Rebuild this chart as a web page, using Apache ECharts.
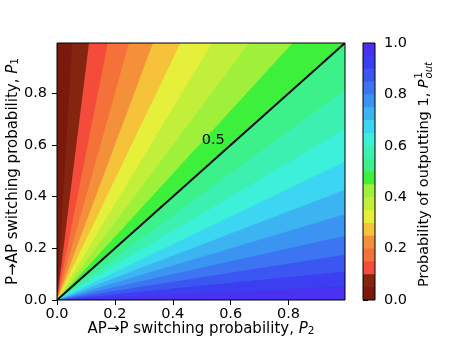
<!DOCTYPE html>
<html>
<head>
<meta charset="utf-8">
<title>P_out contour</title>
<script src="https://cdn.jsdelivr.net/npm/echarts@6/dist/echarts.min.js"></script>
<style>
  html, body { margin: 0; padding: 0; background: #fff; }
  #chart { width: 463px; height: 354px; }
</style>
</head>
<body>
<div id="chart"></div>
<script>
// filled-contour levels of P_out^1 (colourbar shows 20 bands of 0.05)
const levels = [0.00, 0.05, 0.10, 0.15, 0.20, 0.25, 0.30, 0.35, 0.40, 0.45,
                0.50, 0.55, 0.60, 0.65, 0.70, 0.75, 0.80, 0.85, 0.90, 0.95, 1.00]
// one colour per band, low -> high
const bandColors = ['#7a1a0e', '#85240f', '#f54b3b', '#f4723a', '#f5903a',
                    '#f5c23a', '#e6f03a', '#c2f03a', '#9ef03a', '#3cf03c',
                    '#3cf08a', '#3cf0b2', '#3cf0da', '#3cd6f2', '#3cb4f2',
                    '#3c94f2', '#3c74f2', '#3c56f2', '#3c3ef2', '#4a30f0']
// axis extents (P2 on x, P1 on y)
const p2Range = [0, 0.995]
const p1Range = [0, 0.995]
const axisTicks = [0, 0.2, 0.4, 0.6, 0.8]
const cbarTicks = [0, 0.2, 0.4, 0.6, 0.8, 1.0]
// black contour line and where its label sits
const lineLevels = [0.5]
const lineLabelAt = [[0.54, 0.62]]

const FONT = 'DejaVu Sans'
const FS = 15

// P_out = P2 / (P1 + P2) is constant along rays from the origin,
// so a level reaches the box edge at the end of its ray
function rayEnd(v) {
  const X = p2Range[1], Y = p1Range[1]
  const t = Math.min(v > 0 ? X / v : Infinity, v < 1 ? Y / (1 - v) : Infinity)
  return [v * t, (1 - v) * t]
}

// polygon of the region where P_out >= lo
function regionAbove(lo) {
  const X = p2Range[1], Y = p1Range[1]
  const e = rayEnd(lo)
  const pts = [[0, 0], e]
  if (e[1] >= Y - 1e-9) pts.push([X, Y])
  pts.push([X, 0])
  return pts
}

const chart = echarts.init(document.getElementById('chart'))

const tickLabel = { fontFamily: FONT, fontSize: 14.5, color: '#000' }
const nameStyle = {
  fontFamily: FONT, fontSize: FS, color: '#000', lineHeight: 16,
  rich: {
    i: { fontFamily: FONT, fontSize: FS, fontStyle: 'italic', color: '#000', lineHeight: 16 },
    s: { fontFamily: FONT, fontSize: 10.5, color: '#000', lineHeight: 8, verticalAlign: 'bottom' }
  }
}

// colourbar label with stacked super/subscript, measured for placement
const CB_FS = 14.5
const ctx = document.createElement('canvas').getContext('2d')
function textW(s, size, italic) {
  ctx.font = (italic ? 'italic ' : '') + size + 'px "' + FONT + '"'
  return ctx.measureText(s).width
}
const cbMain = 'Probability of outputting 1, '
const wMain = textW(cbMain, CB_FS, false)
const wP = textW('P', CB_FS, true)
const wSup = Math.max(textW('1', 10, false), textW('out', 10, true))
const cbW = wMain + wP + wSup
const x0 = -cbW / 2

const option = {
  animation: false,
  backgroundColor: '#fff',
  grid: [
    { left: 57, top: 43, width: 288, height: 257, show: true, z: 10, outerBoundsMode: 'none',
      borderColor: '#000', borderWidth: 1, backgroundColor: 'transparent' },
    { left: 363, top: 43, width: 12, height: 257, show: true, z: 10, outerBoundsMode: 'none',
      borderColor: '#000', borderWidth: 1, backgroundColor: 'transparent' }
  ],
  xAxis: [
    {
      gridIndex: 0, type: 'value', min: p2Range[0], max: p2Range[1],
      axisLine: { show: false },
      axisTick: { show: true, length: 5, customValues: axisTicks, lineStyle: { color: '#000', width: 1 } },
      axisLabel: { customValues: axisTicks, margin: 7, formatter: v => v.toFixed(1), ...tickLabel },
      splitLine: { show: false },
      name: 'AP→P switching probability, {i|P}{s|2}',
      nameLocation: 'middle', nameGap: 21, nameMoveOverlap: false, nameTextStyle: nameStyle
    },
    { gridIndex: 1, type: 'value', min: 0, max: 1, show: false }
  ],
  yAxis: [
    {
      gridIndex: 0, type: 'value', min: p1Range[0], max: p1Range[1],
      axisLine: { show: false },
      axisTick: { show: true, length: 5, customValues: axisTicks, lineStyle: { color: '#000', width: 1 } },
      axisLabel: { customValues: axisTicks, margin: 10, formatter: v => v.toFixed(1), ...tickLabel },
      splitLine: { show: false },
      name: 'P→AP switching probability, {i|P}{s|1}',
      nameLocation: 'middle', nameRotate: 90, nameGap: 36, nameMoveOverlap: false, nameTextStyle: nameStyle
    },
    {
      gridIndex: 1, type: 'value', min: 0, max: 1, position: 'right',
      axisLine: { show: false },
      axisTick: { show: true, length: 5, customValues: cbarTicks, lineStyle: { color: '#000', width: 1 } },
      axisLabel: { customValues: cbarTicks, margin: 9, formatter: v => v.toFixed(1), ...tickLabel },
      splitLine: { show: false }
    }
  ],
  series: [
    {
      // filled contour bands, painted low -> high so no seams show
      type: 'custom', xAxisIndex: 0, yAxisIndex: 0, clip: true, silent: true, z: 2,
      data: levels.slice(0, -1).map((lo, k) => [lo, levels[k + 1]]),
      renderItem: (params, api) => ({
        type: 'polygon',
        shape: { points: regionAbove(api.value(0)).map(p => api.coord(p)) },
        style: { fill: bandColors[params.dataIndex] }
      })
    },
    {
      // contour line + its label
      type: 'custom', xAxisIndex: 0, yAxisIndex: 0, clip: true, silent: true, z: 3,
      data: lineLevels.map(v => [v]),
      renderItem: (params, api) => {
        const lv = api.value(0)
        const a = api.coord([0, 0])
        const b = api.coord(rayEnd(lv))
        const c = api.coord(lineLabelAt[params.dataIndex])
        return {
          type: 'group',
          children: [
            { type: 'line', shape: { x1: a[0], y1: a[1], x2: b[0], y2: b[1] },
              style: { stroke: '#000', lineWidth: 2 } },
            { type: 'text', x: c[0], y: c[1],
              style: { text: lv.toFixed(1), fontFamily: FONT, fontSize: 14.5, fill: '#000',
                       align: 'center', verticalAlign: 'middle' } }
          ]
        }
      }
    },
    {
      // colourbar
      type: 'custom', xAxisIndex: 1, yAxisIndex: 1, silent: true, z: 2,
      data: levels.slice(0, -1).map((lo, k) => [lo, levels[k + 1]]),
      renderItem: (params, api) => {
        const p0 = api.coord([0, api.value(0)])
        const p1 = api.coord([1, 1])
        return {
          type: 'rect',
          shape: { x: p0[0], y: p1[1], width: p1[0] - p0[0], height: p0[1] - p1[1] },
          style: { fill: bandColors[params.dataIndex] }
        }
      }
    }
  ],
  graphic: [
    {
      type: 'group', x: 424, y: 175, rotation: Math.PI / 2,
      children: [
        { type: 'text', x: x0, y: 0,
          style: { text: cbMain, fontFamily: FONT, fontSize: CB_FS, fill: '#000', verticalAlign: 'middle' } },
        { type: 'text', x: x0 + wMain, y: 0,
          style: { text: 'P', fontFamily: FONT, fontSize: CB_FS, fontStyle: 'italic', fill: '#000', verticalAlign: 'middle' } },
        { type: 'text', x: x0 + wMain + wP + 1, y: -5,
          style: { text: '1', fontFamily: FONT, fontSize: 10, fill: '#000', verticalAlign: 'middle' } },
        { type: 'text', x: x0 + wMain + wP + 1, y: 5,
          style: { text: 'out', fontFamily: FONT, fontSize: 10, fontStyle: 'italic', fill: '#000', verticalAlign: 'middle' } }
      ]
    }
  ]
}

chart.setOption(option)
</script>
</body>
</html>
